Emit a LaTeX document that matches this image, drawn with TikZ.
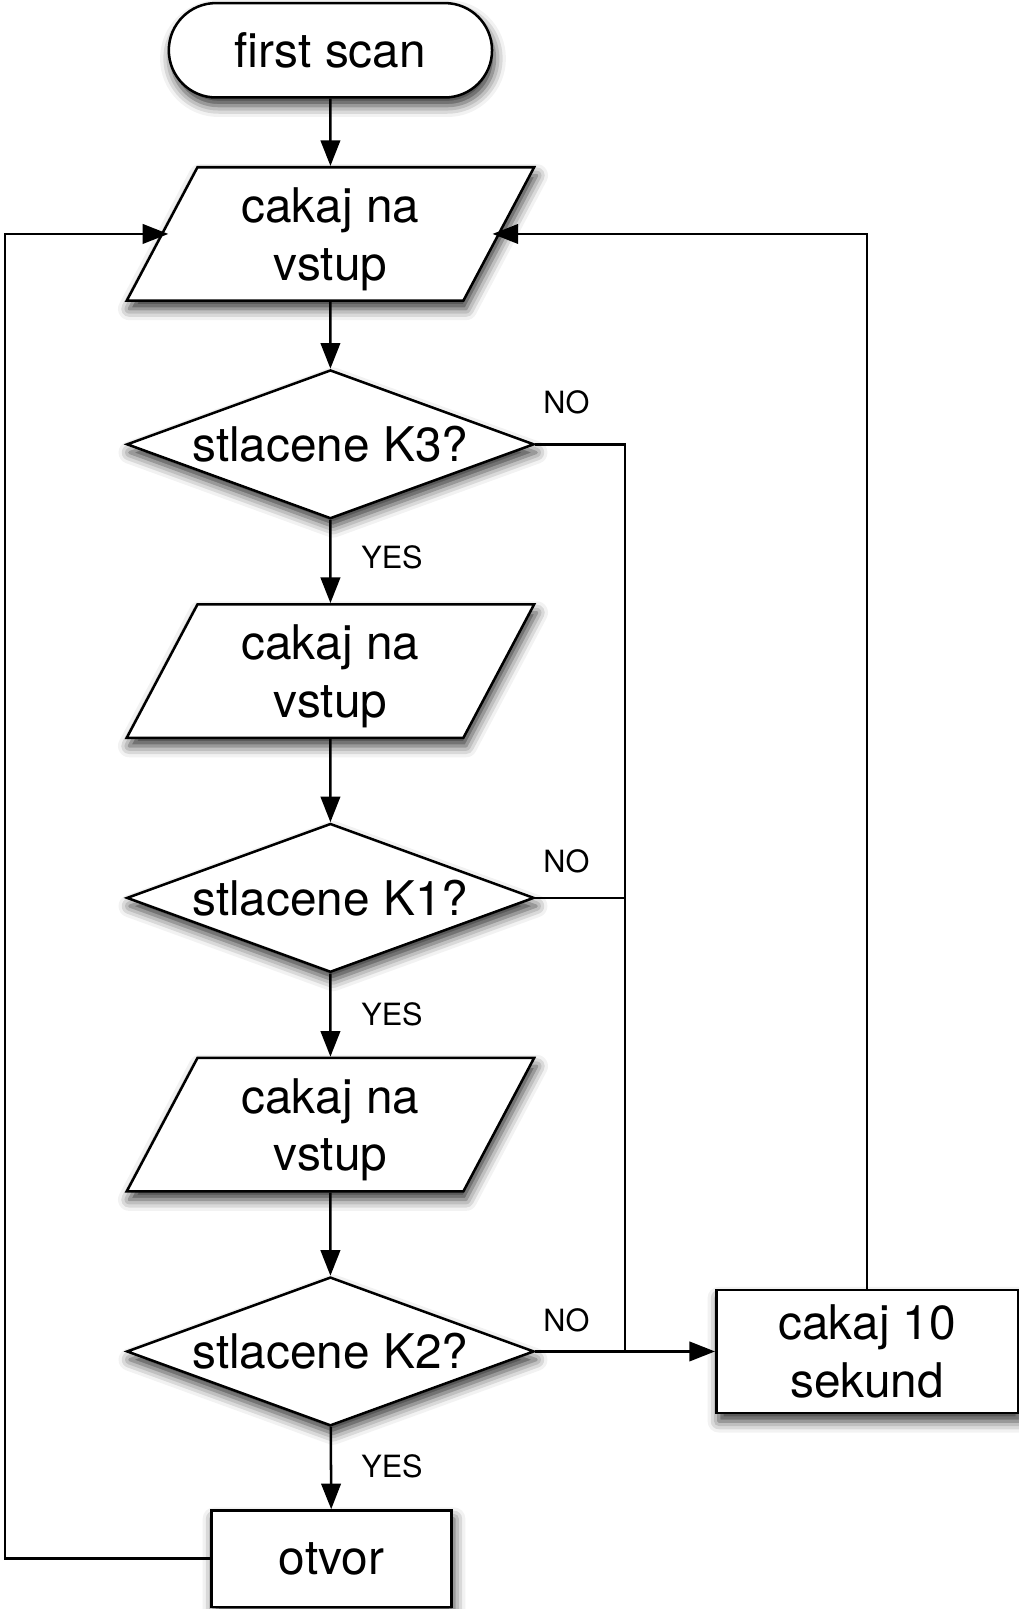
\documentclass[tikz,border=0pt]{standalone}
\usepackage{fontspec}
\setmainfont{TeX Gyre Heros}
\usetikzlibrary{shapes.geometric,arrows.meta,shadows.blur,calc}

% taller first line, to sit the text a little lower
\newcommand{\tallrow}{\rule{0pt}{25pt}}

\begin{document}
\begin{tikzpicture}[
    line width=1.4pt,
    arr/.style={-{Triangle[length=5mm,width=3.8mm]}},
    shadowed/.style={blur shadow={shadow xshift=0.5mm,shadow yshift=-1.6mm,shadow blur radius=2.2mm,shadow opacity=80}},
    txt/.style={font=\fontsize{26.5}{32}\selectfont, align=center, inner sep=0pt},
    term/.style={txt, draw, fill=white, shadowed, rectangle, rounded corners=0.92cm, minimum width=6.3cm, minimum height=1.84cm},
    io/.style={txt, draw, fill=white, shadowed, trapezium, trapezium left angle=58, trapezium right angle=122, trapezium stretches body=true, minimum width=7.94cm, minimum height=2.6cm},
    ask/.style={txt, draw, fill=white, shadowed, diamond, aspect=2.74, minimum width=7.94cm, minimum height=2.9cm},
    proc/.style={txt, draw, fill=white, shadowed, rectangle, minimum width=4.68cm, minimum height=1.88cm},
    lbl/.style={font=\fontsize{17}{20}\selectfont, inner sep=0pt},
]
    % Fix the page size
    \useasboundingbox (0,0) rectangle (19.86,-31.36);

    % Main column
    \node[term] (start) at (6.44,-0.98) {first scan};
    \node[io] (in1) at (6.44,-4.56) {\tallrow cakaj na\\vstup};
    \node[ask] (q3) at (6.44,-8.66) {stlacene K3?};
    \node[io] (in2) at (6.44,-13.08) {\tallrow cakaj na\\vstup};
    \node[ask] (q1) at (6.44,-17.5) {stlacene K1?};
    \node[io] (in3) at (6.44,-21.92) {\tallrow cakaj na\\vstup};
    \node[ask] (q2) at (6.44,-26.34) {stlacene K2?};
    \node[proc] (open) at (6.46,-30.38) {otvor};

    % Delay box on the right
    \node[proc, minimum width=5.88cm, minimum height=2.4cm] (wait) at (16.9,-26.34) {cakaj 10\\sekund};

    % Bend points
    \coordinate (j3) at (12.18,-8.66);
    \coordinate (j1) at (12.18,-17.5);
    \coordinate (j2) at (12.18,-26.34);
    \coordinate (back) at (0.1,-4.56);
    \coordinate (in1L) at ($(in1.center)+(-3.16,0)$);
    \coordinate (in1R) at ($(in1.center)+(3.16,0)$);

    % Straight down
    \draw[arr] (start) -- (in1);
    \draw[arr] (in1) -- (q3);
    \draw[arr] (q3) -- (in2);
    \draw[arr] (in2) -- (q1);
    \draw[arr] (q1) -- (in3);
    \draw[arr] (in3) -- (q2);
    \draw[arr] (q2) -- (open);

    % NO branches
    \draw (q3.east) -- (j3) -- (j2);
    \draw (q1.east) -- (j1);
    \draw[arr] (q2.east) -- (wait.west);

    % Loops back to the top input
    \draw[arr] (wait.north) |- (in1R);
    \draw[arr] (open.west) -| (back) -- (in1L);

    % Branch labels
    \node[lbl] (no3) at (11.04,-7.84) {NO};
    \node[lbl] (no1) at (11.04,-16.78) {NO};
    \node[lbl] (no2) at (11.04,-25.74) {NO};
    \node[lbl] (yes3) at (7.64,-10.86) {YES};
    \node[lbl] (yes1) at (7.64,-19.76) {YES};
    \node[lbl] (yes2) at (7.64,-28.58) {YES};
\end{tikzpicture}
\end{document}
